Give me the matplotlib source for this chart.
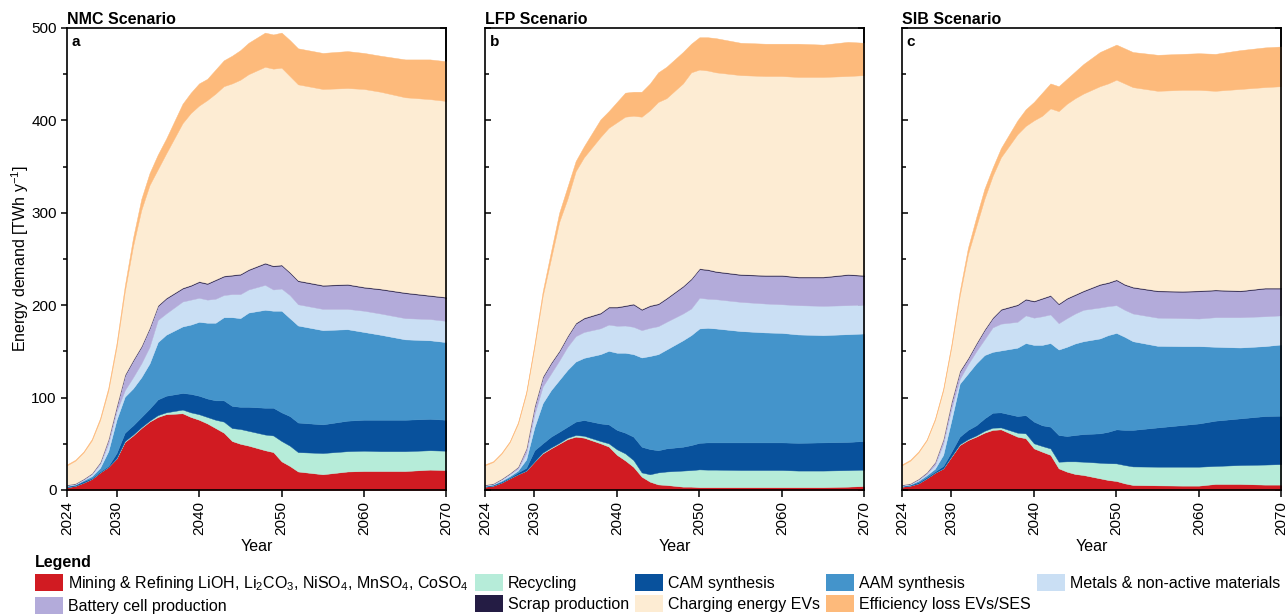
import matplotlib.pyplot as plt
from matplotlib.patches import Patch
from matplotlib.ticker import MultipleLocator

plt.rcParams['font.family'] = ['Liberation Sans', 'DejaVu Sans']
plt.rcParams['mathtext.fontset'] = 'custom'
plt.rcParams['mathtext.rm'] = 'Liberation Sans'
plt.rcParams['mathtext.it'] = 'Liberation Sans:italic'
plt.rcParams['mathtext.bf'] = 'Liberation Sans:bold'

years = [2024, 2025, 2026, 2027, 2028, 2029, 2030, 2031, 2032, 2033, 2034, 2035,
         2036, 2038, 2039, 2040, 2041, 2042, 2043, 2044, 2045, 2046, 2048, 2049,
         2050, 2051, 2052, 2055, 2058, 2060, 2062, 2065, 2068, 2070]

# NMC scenario (TWh/y per process step)
nmc_mining = [3, 4.5, 8, 12, 19, 25, 34, 52, 59, 67, 74, 79, 82, 83, 79, 76, 72, 67, 62, 53,
              50, 48, 43, 41, 31, 26, 20, 17, 20, 20.5, 20.5, 20.5, 22, 21.5]
nmc_recycling = [0, 0, 0, 0, 0, 0, 0.5, 1, 1, 1, 1, 2, 2, 4, 5, 6, 7, 9, 12, 14,
                 16, 16, 17, 18, 22, 22, 21, 23, 22, 22, 21.5, 21.5, 21, 21]
nmc_cam = [1, 1, 1.5, 1, 1, 1, 5.5, 9, 10, 11, 13, 17, 18, 18, 20, 20, 20, 21, 23, 24,
           24, 26, 29, 30, 31, 32, 32, 31, 33, 33.5, 34, 34, 34, 33.5]
nmc_aam = [0.5, 0.5, 1, 2, 4, 16, 36, 39, 40, 43, 49, 62, 66, 72, 75, 80, 82, 84, 90, 96,
           96, 102, 106, 105, 110, 106, 105, 102, 99, 95, 92, 87, 85, 84]
nmc_metals = [0.5, 0.5, 0.5, 2, 4, 8, 9, 7, 12, 15, 18, 24, 23, 27, 27, 26, 25, 26, 24, 25,
              26, 25, 27, 23, 24, 25, 23, 23, 22, 23, 23, 23, 23, 23]
nmc_cell = [0.5, 0.5, 1, 1, 2, 5, 5, 16, 18, 18, 20, 15, 16, 14, 15, 17, 17, 20, 20, 20,
            21, 21, 23, 25, 25, 24, 25, 25, 26, 25, 26, 27, 25, 25]
nmc_scrap = [0.2, 0.2, 0.2, 0.2, 0.2, 0.2, 1, 1, 1, 1, 1, 1, 1, 1, 1, 1, 1, 1, 1, 1,
             1, 1, 1, 1, 1, 1, 1, 1, 1, 1, 1, 1, 1, 1]
nmc_charging = [21, 24.5, 28.5, 35.5, 45.5, 52.5, 64, 90, 123, 147, 154, 147, 156, 178, 186, 190, 198, 201, 205, 207,
                210, 211, 212, 213, 213, 212, 212, 212, 212, 214, 213, 211, 212, 212]
nmc_effloss = [1, 1, 1, 1.5, 2, 3, 4, 6, 9, 12, 13, 16, 16, 21, 22, 24, 23, 26, 28, 30,
               32, 34, 37, 37, 38, 39, 39, 39, 40, 39, 39, 41, 43, 43]

# LFP scenario
lfp_mining = [3.6, 4.7, 8, 12.6, 17, 21, 30.6, 39.6, 45, 50, 55, 57.7, 56.6, 50.5, 47, 38, 32, 25, 14.4, 9,
              6, 5.4, 3.6, 3.6, 3, 3, 3, 3, 3, 3, 3, 3, 3.6, 4.3]
lfp_recycling = [0, 0, 0, 0, 0, 0, 0.4, 0.9, 1, 1, 1.5, 1.8, 2.1, 2.5, 3.5, 6, 7.6, 7.4, 4.6, 8,
                 13, 14.6, 17.4, 17.9, 19.3, 19, 19, 18.6, 18.6, 18.6, 18, 18, 17.9, 17.7]
lfp_cam = [0.4, 0.8, 1, 0.9, 2, 3, 12, 10, 11.7, 12, 12, 14.5, 17, 19, 20.5, 21, 22.4, 25.3, 27.8, 27.3,
           24, 25, 25.8, 27.1, 28.7, 29.5, 29.5, 29.9, 29.9, 29.9, 30, 30.5, 30.5, 31]
lfp_aam = [0.5, 0.5, 1, 1.5, 2, 9, 25, 43.5, 50.3, 56, 61.5, 65, 67.3, 75, 79.6, 83.5, 86.5, 89.3, 96.6, 100.7,
           104, 107, 115.2, 119, 123.8, 124, 123.3, 120.5, 119, 118.5, 117.3, 116.1, 116.6, 116.4]
lfp_metals = [0.5, 0.5, 1, 2, 2, 7, 14, 18, 18, 21, 25, 27.5, 28, 28, 28.4, 29.2, 29.5, 29.6, 29.6, 30.5,
              30.3, 30, 29, 28.8, 33.2, 31.5, 31.7, 31.6, 31.3, 31, 31.7, 31.7, 31.4, 31.3]
lfp_cell = [0.5, 0.5, 1, 1, 2, 5, 8, 10, 11, 10, 11, 13.5, 14.6, 16, 18.5, 19.8, 21, 24.1, 22, 23.5,
            23.7, 25, 29, 31.6, 31, 31, 29.5, 29.1, 29.9, 30.7, 30, 30.7, 32.7, 31]
lfp_scrap = [0.2, 0.2, 0.2, 0.2, 0.2, 0.2, 1, 1, 1, 1, 1, 1, 1, 1, 1, 1, 1, 1, 1, 1,
             1, 1, 1, 1, 1, 1, 1, 1, 1, 1, 1, 1, 1, 1]
lfp_charging = [21, 23.1, 27.1, 33.5, 46.5, 59, 64, 87, 112, 139, 148, 164, 173.4, 190, 193.5, 199.5, 204, 203.3, 208, 211,
                218, 216, 219, 223, 215, 215, 215, 215.3, 215.3, 215.3, 216, 216, 214.3, 216.3]
lfp_effloss = [1, 0.9, 0.9, 1, 1.5, 2, 3, 5, 8, 10, 13, 11, 12, 19, 18, 22, 26, 26, 27, 29,
               32, 34, 34, 31, 35, 36, 37, 35, 35, 35, 36, 35, 37, 35]

# SIB scenario
sib_mining = [3.6, 4.7, 7.2, 12.6, 18.7, 23.4, 36, 48.6, 54, 57.7, 62, 65, 65.6, 57.7, 56, 45, 41.4, 38, 23.4, 19.8,
              17.3, 16.2, 12.6, 10.8, 9.7, 7.2, 5.4, 5, 4.7, 4.7, 6.5, 6.5, 5.8, 5.8]
sib_recycling = [0, 0, 0, 0, 0, 0, 0.5, 0.9, 1, 1.3, 2, 2.4, 2.1, 4.3, 5.3, 5.5, 6.2, 7, 7.2, 11.2,
                 13.7, 14.4, 16.9, 18.2, 19.1, 19.8, 20.1, 20.2, 20.5, 20.5, 19.5, 20.5, 21.7, 22.2]
sib_cam = [0.4, 0.8, 1.3, 1.4, 1.3, 2.6, 4.9, 8.2, 10, 11, 13.5, 16.2, 16.3, 18, 19.7, 23.5, 22.4, 23.5, 28.9, 27.4,
           28.5, 29.9, 31.8, 34, 36.8, 38, 39.5, 42.5, 45.1, 46.8, 49, 50.5, 52.5, 52.4]
sib_aam = [0.5, 0.5, 1.5, 2, 3, 12, 34.3, 57.3, 61, 67, 68.5, 65.9, 67, 74, 78, 83, 87, 90.5, 92.5, 96.6,
           99.1, 100.5, 102.7, 104.6, 104.4, 100.8, 96, 88.3, 85.4, 83.7, 80, 76.7, 75.7, 77.1]
sib_metals = [0.5, 0.5, 1, 1.5, 4, 12, 12.3, 5, 10, 13, 17, 26.5, 29, 28, 30, 29.5, 31, 31, 28.5, 31,
              32.4, 34, 33.5, 31.4, 30, 29.2, 30, 30.5, 30.3, 29.9, 32, 32.8, 32.3, 31.5]
sib_cell = [0.5, 0.5, 1, 1.5, 3, 5, 7, 8, 6, 8, 10, 10, 15, 18, 17, 17.5, 19, 20, 20.5, 21,
            20, 20, 24.5, 25, 27, 27, 28, 28.5, 28.5, 29.4, 29, 28, 30, 29]
sib_scrap = [0.2, 0.2, 0.2, 0.2, 0.2, 0.2, 1, 1, 1, 1, 1, 1, 1, 1, 1, 1, 1, 1, 1, 1,
             1, 1, 1, 1, 1, 1, 1, 1, 1, 1, 1, 1, 1, 1]
sib_charging = [21, 24.5, 28.5, 34.5, 45.5, 52.5, 59, 81, 112, 126, 141, 153, 164, 184, 187, 195, 197, 202, 208, 210,
                212, 213, 214, 215, 216, 217, 216, 216, 217.5, 217, 215, 218, 217, 218]
sib_effloss = [1, 1, 1, 1, 1.5, 2, 3, 5, 7, 10, 11, 9, 10, 15, 18, 20, 25, 27, 27, 27,
               29, 32, 37, 38, 38, 38, 38, 39, 39, 39.7, 40, 42, 43, 43]

labels = [r'Mining & Refining LiOH, Li$_2$CO$_3$, NiSO$_4$, MnSO$_4$, CoSO$_4$',
          'Recycling', 'CAM synthesis', 'AAM synthesis', 'Metals & non-active materials',
          'Battery cell production', 'Scrap production', 'Charging energy EVs',
          'Efficiency loss EVs/SES']
colors = ['#d11b22', '#b6ecd9', '#08519c', '#4494cb', '#cadff4',
          '#b3abda', '#241c44', '#fdecd3', '#fdba7b']

scenarios = [
    ('NMC Scenario', 'a', [nmc_mining, nmc_recycling, nmc_cam, nmc_aam, nmc_metals,
                           nmc_cell, nmc_scrap, nmc_charging, nmc_effloss]),
    ('LFP Scenario', 'b', [lfp_mining, lfp_recycling, lfp_cam, lfp_aam, lfp_metals,
                           lfp_cell, lfp_scrap, lfp_charging, lfp_effloss]),
    ('SIB Scenario', 'c', [sib_mining, sib_recycling, sib_cam, sib_aam, sib_metals,
                           sib_cell, sib_scrap, sib_charging, sib_effloss]),
]

fig = plt.figure(figsize=(12.87, 6.14), dpi=100)
lefts = [0.0521, 0.3768, 0.7008]

for i, (title, letter, series) in enumerate(scenarios):
    ax = fig.add_axes([lefts[i], 0.202, 0.2948, 0.7524])
    ax.stackplot(years, *series, colors=colors, linewidth=0.3, edgecolor='face')
    ax.set_xlim(2024, 2070)
    ax.set_ylim(0, 500)
    ax.set_xticks([2024, 2030, 2040, 2050, 2060, 2070])
    ax.tick_params(axis='x', rotation=90, labelsize=11, length=5, width=1.1, pad=3)
    ax.yaxis.set_major_locator(MultipleLocator(100))
    ax.yaxis.set_minor_locator(MultipleLocator(50))
    ax.tick_params(axis='y', which='both', direction='out' if i == 0 else 'in',
                   labelleft=(i == 0), labelsize=11, width=1.1)
    ax.tick_params(axis='y', which='major', length=4)
    ax.tick_params(axis='y', which='minor', length=3)
    sec = ax.secondary_yaxis('right')
    sec.yaxis.set_major_locator(MultipleLocator(100))
    sec.yaxis.set_minor_locator(MultipleLocator(50))
    sec.tick_params(which='both', direction='in', labelright=False, width=1.1)
    sec.tick_params(which='major', length=4)
    sec.tick_params(which='minor', length=3)
    sec.spines['right'].set_linewidth(1.2)
    for sp in ax.spines.values():
        sp.set_linewidth(1.2)
    ax.set_xlabel('Year', fontsize=11.5, labelpad=3)
    ax.set_title(title, loc='left', fontweight='bold', fontsize=11.5, pad=3)
    ax.text(0.012, 0.985, letter, transform=ax.transAxes, va='top', ha='left',
            fontweight='bold', fontsize=11)
    if i == 0:
        ax.set_ylabel(r'Energy demand [TWh y$^{-1}$]', fontsize=11.5, labelpad=0)

order = [0, 5, 1, 6, 2, 7, 3, 8, 4]
handles = [Patch(facecolor=colors[k], edgecolor='none') for k in order]
fig.legend(handles, [labels[k] for k in order], loc='upper left',
           bbox_to_anchor=(35 / 1287, 1 - 555 / 614), ncol=5, frameon=False,
           fontsize=11.5, title='Legend', alignment='left',
           title_fontproperties={'weight': 'bold', 'size': 11.5},
           handlelength=1.75, handleheight=1.25, handletextpad=0.3,
           columnspacing=0.4, labelspacing=0.25, borderpad=0, borderaxespad=0)

fig.savefig('out.png', dpi=100)
